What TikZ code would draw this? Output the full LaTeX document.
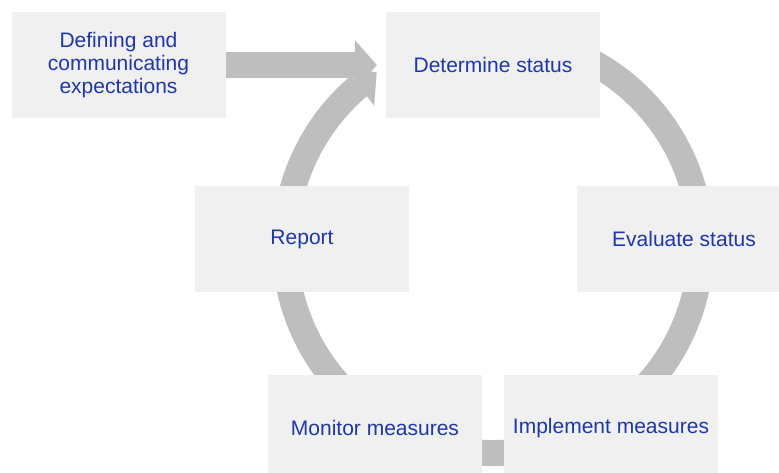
\documentclass[tikz,border=0pt]{standalone}
\usepackage{fontspec}
\setmainfont{Liberation Sans}
\usepackage{xcolor}
\usetikzlibrary{arrows.meta,bending,backgrounds}
\definecolor{stagefill}{RGB}{240,240,240}
\definecolor{flowgray}{RGB}{190,190,190}
\definecolor{stageblue}{RGB}{30,55,170}

\begin{document}
\begin{tikzpicture}[x=1pt,y=1pt,
        stage/.style={fill=stagefill, minimum width=214pt, minimum height=106pt, inner sep=0pt,
            align=center, text=stageblue, font=\fontsize{21}{23}\selectfont},
        flow/.style={draw=flowgray, line width=26pt,
            -{Triangle[length=22pt,width=50pt,line width=0pt,flex]}}]
        \useasboundingbox (0,0) rectangle (779,472);
        \clip (0,0) rectangle (779,472);
        \pgfmathsetmacro{\ringradius}{208}

        \node[stage] (define) at (118.5, 407) {Defining and\\communicating\\expectations};
        \node[stage] (determine) at (493, 407) {Determine status};
        \node[stage] (evaluate) at (684, 233) {Evaluate status};
        \node[stage] (report) at (302, 233) {Report};
        \node[stage] (monitor) at (375, 44) {Monitor measures};
        \node[stage] (implement) at (611, 44) {Implement measures};

        \coordinate (hub) at (493, 227);

        \begin{scope}[on background layer]
            \draw [flow] (define.east) -- ([xshift=-9pt]determine.west);
            \draw [flow] ([shift={(75:\ringradius)}]hub) arc[start angle=75, end angle=-236, radius=\ringradius];
        \end{scope}
    \end{tikzpicture}
\end{document}
